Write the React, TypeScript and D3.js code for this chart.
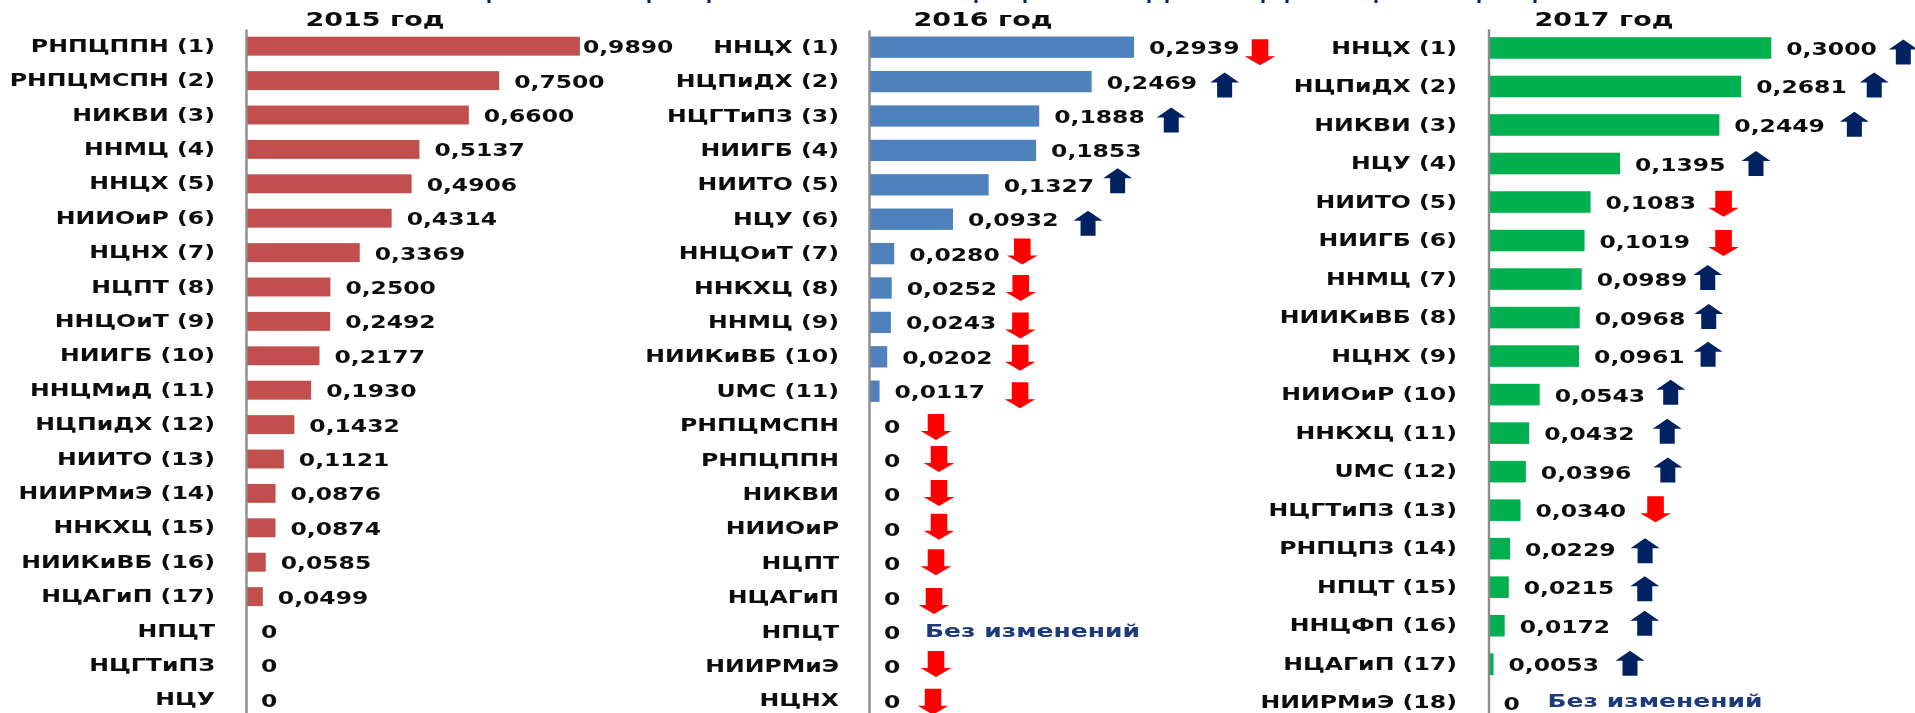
import React, { useEffect, useRef } from 'react';
import * as d3 from 'd3';

const labels2015 = ['РНПЦППН (1)', 'РНПЦМСПН (2)', 'НИКВИ (3)', 'ННМЦ (4)', 'ННЦХ (5)', 'НИИОиР (6)', 'НЦНХ (7)', 'НЦПТ (8)', 'ННЦОиТ (9)', 'НИИГБ (10)', 'ННЦМиД (11)', 'НЦПиДХ (12)', 'НИИТО (13)', 'НИИРМиЭ (14)', 'ННКХЦ (15)', 'НИИКиВБ (16)', 'НЦАГиП (17)', 'НПЦТ', 'НЦГТиПЗ', 'НЦУ'];
const values2015 = [0.989, 0.75, 0.66, 0.5137, 0.4906, 0.4314, 0.3369, 0.25, 0.2492, 0.2177, 0.193, 0.1432, 0.1121, 0.0876, 0.0874, 0.0585, 0.0499, 0, 0, 0];

const labels2016 = ['ННЦХ (1)', 'НЦПиДХ (2)', 'НЦГТиПЗ (3)', 'НИИГБ (4)', 'НИИТО (5)', 'НЦУ (6)', 'ННЦОиТ (7)', 'ННКХЦ (8)', 'ННМЦ (9)', 'НИИКиВБ (10)', 'UMC (11)', 'РНПЦМСПН', 'РНПЦППН', 'НИКВИ', 'НИИОиР', 'НЦПТ', 'НЦАГиП', 'НПЦТ', 'НИИРМиЭ', 'НЦНХ'];
const values2016 = [0.2939, 0.2469, 0.1888, 0.1853, 0.1327, 0.0932, 0.028, 0.0252, 0.0243, 0.0202, 0.0117, 0, 0, 0, 0, 0, 0, 0, 0, 0];
const trend2016 = ['down', 'up', 'up', '', 'up', 'up', 'down', 'down', 'down', 'down', 'down', 'down', 'down', 'down', 'down', 'down', 'down', 'same', 'down', 'down'];

const labels2017 = ['ННЦХ (1)', 'НЦПиДХ (2)', 'НИКВИ (3)', 'НЦУ (4)', 'НИИТО (5)', 'НИИГБ (6)', 'ННМЦ (7)', 'НИИКиВБ (8)', 'НЦНХ (9)', 'НИИОиР (10)', 'ННКХЦ (11)', 'UMC (12)', 'НЦГТиПЗ (13)', 'РНПЦПЗ (14)', 'НПЦТ (15)', 'ННЦФП (16)', 'НЦАГиП (17)', 'НИИРМиЭ (18)'];
const values2017 = [0.3, 0.2681, 0.2449, 0.1395, 0.1083, 0.1019, 0.0989, 0.0968, 0.0961, 0.0543, 0.0432, 0.0396, 0.034, 0.0229, 0.0215, 0.0172, 0.0053, 0];
const trend2017 = ['up', 'up', 'up', 'up', 'down', 'down', 'up', 'up', 'up', 'up', 'up', 'up', 'down', 'up', 'up', 'up', 'up', 'same'];

// arrows were placed by hand in the original, so they need per-row nudges
const arrowDx2016 = [126, 133, 132, 0, 129, 135, 128, 129, 129.5, 133, 140.5, 67, 70, 70, 70, 67, 65, 56, 67, 64];
const arrowDy2016 = [5, 3.5, 4, 0, -4, 4, -2, 0, 3, 1, 4, 1.5, -1, -1.5, -2, -1, 3.5, -1, -2.5, 1];
const arrowDx2017 = [132, 133, 135, 136, 133, 139, 126, 129, 129, 131, 138, 142, 135, 135, 136, 140, 136.5, 59];
const arrowDy2017 = [4, -1.6, -0.7, 0, 1.6, 2.5, -1.6, -1, -1.8, -2.4, -2, -1.6, -1, 2, 1.6, -2.5, -1, -2];

// the slide heading is cropped away, only the tails of its letters are left at the top edge
const headingTails = [489, 649, 709, 976, 1025, 1149, 1167, 1263, 1287, 1376, 1479, 1535];

const FONT = '"DejaVu Sans", sans-serif';
const TEXT_COLOR = '#111';
const NAVY = '#002060';
const RED = '#ff0000';
const LABEL_STRETCH = 1.35;
const VALUE_STRETCH = 1.38;
const TITLE_STRETCH = 1.42;

interface Panel {
  title: string;
  titleX: number;
  labels: string[];
  values: number[];
  trend?: string[];
  arrowDx?: number[];
  arrowDy?: number[];
  color: string;
  axisX: number;
  pxPerUnit: number;
  top: number;
  bottom: number;
  gap: number;
  labelRight: number;
}

const panels: Panel[] = [
  { title: '2015 год', titleX: 375, labels: labels2015, values: values2015, color: '#c0504d', axisX: 246, pxPerUnit: 337.6, top: 29, bottom: 717, gap: 0.45, labelRight: 215 },
  { title: '2016 год', titleX: 983, labels: labels2016, values: values2016, trend: trend2016, arrowDx: arrowDx2016, arrowDy: arrowDy2016, color: '#4f81bd', axisX: 869, pxPerUnit: 901.7, top: 30, bottom: 718, gap: 0.38, labelRight: 839 },
  { title: '2017 год', titleX: 1604, labels: labels2017, values: values2017, trend: trend2017, arrowDx: arrowDx2017, arrowDy: arrowDy2017, color: '#00b050', axisX: 1488.5, pxPerUnit: 942.7, top: 28.7, bottom: 722, gap: 0.44, labelRight: 1457 },
];

const formatValue = (v: number) => (v === 0 ? '0' : v.toFixed(4).replace('.', ','));

const arrowPath = (cx: number, cy: number, up: boolean) => {
  const s = up ? -1 : 1;
  const halfLen = up ? 12.5 : 13;
  const halfHead = up ? 14.5 : 15.3;
  const halfShaft = up ? 7.5 : 8.3;
  const headLen = up ? 10 : 9;
  const p = d3.path();
  p.moveTo(cx - halfShaft, cy - s * halfLen);
  p.lineTo(cx + halfShaft, cy - s * halfLen);
  p.lineTo(cx + halfShaft, cy + s * (halfLen - headLen));
  p.lineTo(cx + halfHead, cy + s * (halfLen - headLen));
  p.lineTo(cx, cy + s * halfLen);
  p.lineTo(cx - halfHead, cy + s * (halfLen - headLen));
  p.lineTo(cx - halfShaft, cy + s * (halfLen - headLen));
  p.closePath();
  return p.toString();
};

const App: React.FC = () => {
  const svgRef = useRef<SVGSVGElement>(null);

  useEffect(() => {
    if (!svgRef.current) return;
    const svg = d3.select(svgRef.current);
    svg.selectAll('*').remove();

    // the reference is an upscaled screenshot, so everything is a little soft
    svg.append('defs')
      .append('filter')
      .attr('id', 'soft')
      .attr('x', 0)
      .attr('y', 0)
      .attr('width', 1915)
      .attr('height', 713)
      .attr('filterUnits', 'userSpaceOnUse')
      .append('feGaussianBlur')
      .attr('stdDeviation', 0.5);

    const root = svg.append('g').attr('filter', 'url(#soft)');

    root.selectAll('rect.tail')
      .data(headingTails)
      .join('rect')
      .attr('class', 'tail')
      .attr('x', (d) => d - 1.5)
      .attr('y', 0)
      .attr('width', 3)
      .attr('height', 3)
      .attr('fill', NAVY);

    panels.forEach((panel) => {
      const y = d3.scaleBand<string>()
        .domain(panel.labels)
        .range([panel.top, panel.bottom])
        .paddingInner(panel.gap)
        .paddingOuter(panel.gap / 2);
      const x = d3.scaleLinear().domain([0, 1]).range([panel.axisX, panel.axisX + panel.pxPerUnit]);
      const rowY = (i: number) => (y(panel.labels[i]) as number) + y.bandwidth() / 2;

      const g = root.append('g');

      g.append('text')
        .attr('transform', `translate(${panel.titleX},26) scale(${TITLE_STRETCH},1)`)
        .attr('text-anchor', 'middle')
        .attr('font-family', FONT)
        .attr('font-weight', 700)
        .attr('font-size', 19)
        .attr('fill', TEXT_COLOR)
        .text(panel.title);

      g.selectAll('rect.bar')
        .data(panel.values)
        .join('rect')
        .attr('class', 'bar')
        .attr('x', panel.axisX)
        .attr('y', (_, i) => y(panel.labels[i]) as number)
        .attr('width', (d) => x(d) - panel.axisX)
        .attr('height', y.bandwidth())
        .attr('fill', panel.color);

      const pad = panel.axisX - panel.labelRight;
      const axis = g.append('g')
        .attr('transform', `translate(${panel.axisX},0)`)
        .call(d3.axisLeft(y).tickSize(0).tickPadding(pad));
      axis.select('.domain').attr('stroke', '#8c8c8c').attr('stroke-width', 2.4);
      axis.selectAll('text')
        .attr('x', -pad / LABEL_STRETCH)
        .attr('transform', `scale(${LABEL_STRETCH},1)`)
        .attr('font-family', FONT)
        .attr('font-weight', 700)
        .attr('font-size', 17.5)
        .attr('fill', TEXT_COLOR);

      g.selectAll('text.value')
        .data(panel.values)
        .join('text')
        .attr('class', 'value')
        .attr('transform', (d, i) => {
          // first label of 2015 sits right against its bar
          const gap = panel.values[0] > 0.9 && i === 0 ? 3 : 15;
          return `translate(${x(d) + gap},${rowY(i) + 7}) scale(${VALUE_STRETCH},1)`;
        })
        .attr('font-family', FONT)
        .attr('font-weight', 700)
        .attr('font-size', 17)
        .attr('fill', TEXT_COLOR)
        .text((d) => formatValue(d));

      if (!panel.trend) return;
      const trend = panel.trend;
      const dx = panel.arrowDx as number[];
      const dy = panel.arrowDy as number[];

      g.selectAll('path.arrow')
        .data(panel.values.map((v, i) => ({ v, i })).filter((d) => trend[d.i] === 'up' || trend[d.i] === 'down'))
        .join('path')
        .attr('class', 'arrow')
        .attr('d', (d) => arrowPath(x(d.v) + dx[d.i], rowY(d.i) + dy[d.i], trend[d.i] === 'up'))
        .attr('fill', (d) => (trend[d.i] === 'up' ? NAVY : RED));

      g.selectAll('text.same')
        .data(panel.values.map((v, i) => ({ v, i })).filter((d) => trend[d.i] === 'same'))
        .join('text')
        .attr('class', 'same')
        .attr('transform', (d) => `translate(${x(d.v) + dx[d.i]},${rowY(d.i) + dy[d.i] + 6}) scale(1.47,1)`)
        .attr('font-family', FONT)
        .attr('font-weight', 700)
        .attr('font-size', 17)
        .attr('fill', '#1f3a7a')
        .text('Без изменений');
    });
  }, []);

  return (
    <svg
      ref={svgRef}
      width={1915}
      height={713}
      style={{ position: 'absolute', left: 0, top: 0, display: 'block', background: '#fff' }}
    />
  );
};

export default App;
